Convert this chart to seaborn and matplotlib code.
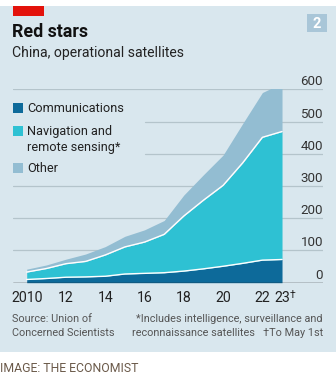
import matplotlib
matplotlib.use("Agg")
import matplotlib.pyplot as plt
from matplotlib.patches import Rectangle
import seaborn as sns
import pandas as pd

# ---- data ----
years = [2010, 2011, 2012, 2013, 2014, 2015, 2016, 2017, 2018, 2019, 2020, 2021, 2022, 2023]
communications = [10, 13, 17, 18, 20, 27, 29, 31, 36, 43, 51, 60, 70, 72]
navigation = [23, 31, 42, 48, 66, 84, 97, 119, 171, 213, 251, 312, 381, 397]
other = [9, 11, 14, 23, 26, 33, 38, 43, 65, 79, 94, 122, 139, 150]
series_names = ["Communications", "Navigation and\nremote sensing*", "Other"]
y_ticks = [0, 100, 200, 300, 400, 500, 600]
x_ticks = [2010, 2012, 2014, 2016, 2018, 2020, 2022, 2023]
x_labels = ["2010", "12", "14", "16", "18", "20", "22", "23"]

df = pd.DataFrame({"year": years, "comm": communications, "nav": navigation, "other": other})
df["c1"] = df["comm"]
df["c2"] = df["comm"] + df["nav"]
df["c3"] = df["c2"] + df["other"]

BG = "#d9e7ee"
C_COMM = "#0d6a9a"
C_NAV = "#2ec1d3"
C_OTH = "#93bdd2"
GRID = "#b4c4cb"

sns.set_style("white")
plt.rcParams["font.family"] = ["Roboto", "DejaVu Sans"]

fig = plt.figure(figsize=(3.36, 3.80), dpi=100)
fig.patch.set_facecolor("white")
W, H = 336.0, 380.0

def fx(px):
    return px / W

def fy(py):
    return 1 - py / H

# panel background
fig.patches.append(Rectangle((0, fy(352)), 1, fy(6) - fy(352), transform=fig.transFigure,
                             facecolor=BG, edgecolor="none", zorder=-5))
# red tag
fig.patches.append(Rectangle((fx(13), fy(16)), fx(31), fy(6) - fy(16), transform=fig.transFigure,
                             facecolor="#e3120b", edgecolor="none", zorder=1))
# number box
fig.patches.append(Rectangle((fx(307), fy(32)), fx(20), fy(14) - fy(32), transform=fig.transFigure,
                             facecolor="#a9c6d8", edgecolor="none", zorder=1))
fig.text(fx(317), fy(23.5), "2", color="white", fontsize=10.5, fontweight="bold",
         ha="center", va="center")

fig.text(fx(12.5), fy(37), "Red stars", fontsize=12.8, fontweight="bold", color="#111111",
         ha="left", va="baseline")
fig.text(fx(12.5), fy(57.5), "China, operational satellites", fontsize=10.1, color="#222222",
         ha="left", va="baseline")

ax = fig.add_axes([fx(13), fy(282.7), fx(323) - fx(13), fy(89.3) - fy(282.7)])
ax.set_zorder(2)
ax.set_facecolor("none")
ax.patch.set_alpha(0)
ax.set_xlim(2010 + (13 - 26.7) / 19.64, 2010 + (323 - 26.7) / 19.64)
ax.set_ylim(0, 600)

# gridlines
for t in y_ticks[1:]:
    if t in (400, 500):
        ax.axhline(t, xmin=(145 - 13) / 310, xmax=1, color=GRID, lw=0.9, zorder=1)
    else:
        ax.axhline(t, color=GRID, lw=0.9, zorder=1)
for t in y_ticks:
    ax.text(1.0, t + 3, str(t), transform=ax.get_yaxis_transform(), ha="right", va="bottom",
            fontsize=9.6, color="#333333", clip_on=False)

# areas
ax.fill_between(df["year"], 0, df["c1"], color=C_COMM, lw=0, zorder=2)
ax.fill_between(df["year"], df["c1"], df["c2"], color=C_NAV, lw=0, zorder=2)
ax.fill_between(df["year"], df["c2"], df["c3"], color=C_OTH, lw=0, zorder=2)
sns.lineplot(data=df, x="year", y="c1", color="white", lw=1.0, ax=ax, zorder=3)
sns.lineplot(data=df, x="year", y="c2", color="white", lw=1.0, ax=ax, zorder=3)

ax.axhline(0, color="#222222", lw=1.0, zorder=4)

for s in ax.spines.values():
    s.set_visible(False)
ax.set_yticks([])
ax.set_xticks(years)
ax.set_xticklabels([""] * len(years))
ax.tick_params(axis="x", length=5, width=0.9, color="#222222", direction="out", pad=2)
ax.set_xlabel("")
ax.set_ylabel("")
for x, lab in zip(x_ticks, x_labels):
    ax.text(x, -27, lab, ha="center", va="top", fontsize=10.2, color="#222222", clip_on=False)
ax.text(2023 + 0.38, -22, "\u2020", ha="left", va="top", fontsize=7.5, color="#222222", clip_on=False)

# legend
colors = [C_COMM, C_NAV, C_OTH]
sq_y = [108.3, 130.7, 168.3]
lab_y = [108.8, 139, 168.6]
for c, sy, ly, name in zip(colors, sq_y, lab_y, series_names):
    fig.patches.append(Rectangle((fx(13), fy(sy + 5)), fx(10), fy(sy - 5) - fy(sy + 5),
                                 transform=fig.transFigure, facecolor=c, edgecolor="none", zorder=5))
    fig.text(fx(27), fy(ly), name, fontsize=9.2, color="#222222", ha="left", va="center",
             linespacing=1.3)

# footer
fig.text(fx(12.5), fy(326), "Source: Union of\nConcerned Scientists", fontsize=7.8, color="#555555",
         ha="left", va="center", linespacing=1.4)
fig.text(fx(323), fy(326), "*Includes intelligence, surveillance and\nreconnaissance satellites   \u2020To May 1st",
         fontsize=7.8, color="#555555", ha="right", va="center", linespacing=1.4)
fig.text(0.0, fy(368), "IMAGE: THE ECONOMIST", fontsize=8.8, color="#6b5a4a",
         ha="left", va="center")

fig.savefig("out.png", dpi=100, facecolor="white")
